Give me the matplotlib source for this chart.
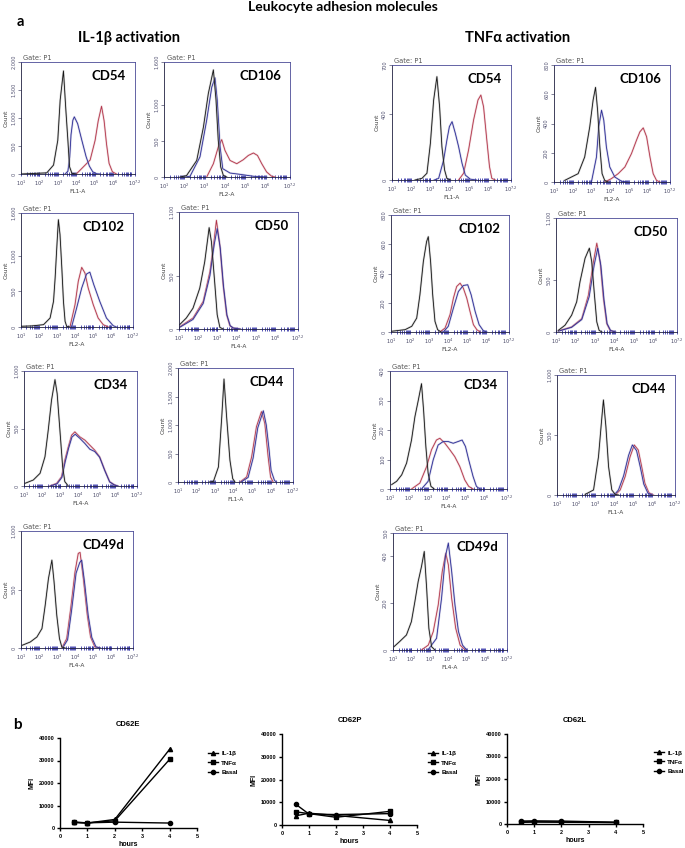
import matplotlib
matplotlib.use("Agg")
import matplotlib.pyplot as plt
import numpy as np
from matplotlib.ticker import NullFormatter

W, H = 685, 848

# ---- flow histograms: (log10 fluorescence, count) ----
IL_CD54_BLACK = [(1.0, 0), (1.7, 10), (2.4, 20), (2.77, 160), (3.0, 600), (3.13, 1320), (3.31, 1840),
                 (3.44, 1140), (3.55, 600), (3.64, 130), (3.77, 12), (4.0, 0)]
IL_CD54_BLUE = [(3.4, 0), (3.55, 50), (3.65, 300), (3.72, 700), (3.82, 960), (3.9, 1020), (4.08, 900),
                (4.31, 600), (4.54, 310), (4.72, 140), (4.9, 40), (5.11, 5), (5.3, 0)]
IL_CD54_RED = [(4.0, 0), (4.13, 40), (4.4, 130), (4.76, 250), (5.03, 600), (5.2, 950), (5.38, 1210),
               (5.52, 950), (5.65, 540), (5.79, 190), (5.97, 40), (6.19, 0)]

IL_CD106_BLACK = [(1.8, 0), (2.11, 20), (2.61, 230), (2.94, 695), (3.18, 1160), (3.43, 1490), (3.56, 1070),
                  (3.67, 510), (3.79, 140), (3.92, 23), (4.08, 0)]
IL_CD106_BLUE = [(2.0, 0), (2.28, 10), (2.77, 280), (3.1, 790), (3.35, 1250), (3.51, 1380), (3.62, 1070),
                 (3.76, 420), (3.89, 116), (4.25, 55), (4.74, 37), (5.4, 10), (6.05, 0)]
IL_CD106_RED = [(3.1, 0), (3.43, 185), (3.67, 417), (3.84, 520), (4.0, 370), (4.25, 230), (4.58, 185),
                (4.9, 240), (5.15, 300), (5.4, 334), (5.6, 300), (5.81, 185), (6.05, 70), (6.3, 10), (6.46, 0)]

IL_CD102_BLACK = [(1.0, 10), (1.6, 15), (2.25, 33), (2.61, 126), (2.8, 360), (2.89, 690), (2.98, 1110),
                  (3.07, 1506), (3.16, 1296), (3.26, 828), (3.35, 360), (3.44, 80), (3.53, 10), (3.7, 0)]
IL_CD102_BLUE = [(3.8, 0), (4.08, 267), (4.36, 547), (4.63, 744), (4.81, 770), (5.03, 594), (5.36, 360),
                 (5.73, 126), (6.1, 19), (6.28, 0)]
IL_CD102_RED = [(3.71, 0), (3.99, 313), (4.17, 640), (4.36, 837), (4.54, 758), (4.72, 547), (5.0, 313),
                (5.27, 126), (5.55, 33), (5.83, 0)]

IL_CD50_BLACK = [(1.03, 40), (1.38, 103), (1.73, 196), (2.08, 383), (2.34, 632), (2.52, 882), (2.57, 953),
                 (2.69, 820), (2.87, 414), (2.99, 134), (3.13, 15), (3.3, 0)]
IL_CD50_BLUE = [(1.03, 15), (1.73, 90), (2.26, 240), (2.61, 500), (2.84, 800), (2.99, 944), (3.15, 760),
                (3.32, 400), (3.5, 130), (3.67, 30), (3.85, 8), (4.2, 0)]
IL_CD50_RED = [(1.03, 20), (1.73, 103), (2.26, 259), (2.61, 539), (2.82, 820), (2.95, 1022), (3.13, 788),
               (3.3, 414), (3.48, 134), (3.65, 31), (3.82, 9), (4.17, 0)]

IL_CD34_BLACK = [(1.05, 23), (1.51, 52), (1.88, 110), (2.15, 254), (2.33, 486), (2.51, 746), (2.7, 925),
                 (2.82, 803), (2.97, 486), (3.12, 168), (3.24, 38), (3.43, 0)]
IL_CD34_BLUE = [(2.45, 0), (2.82, 20), (3.08, 75), (3.26, 210), (3.45, 330), (3.63, 425), (3.81, 450),
                (4.06, 415), (4.34, 370), (4.61, 320), (4.88, 300), (5.15, 250), (5.43, 135), (5.7, 35),
                (5.97, 8), (6.15, 0)]
IL_CD34_RED = [(2.42, 0), (2.79, 23), (3.06, 81), (3.24, 225), (3.43, 341), (3.61, 442), (3.79, 471),
               (4.06, 428), (4.34, 399), (4.61, 355), (4.88, 312), (5.15, 254), (5.43, 139), (5.7, 38),
               (5.97, 9), (6.15, 0)]

IL_CD44_BLACK = [(2.7, 0), (2.91, 10), (3.18, 265), (3.36, 1147), (3.48, 1806), (3.62, 1147), (3.8, 382),
                 (3.95, 59), (4.07, 0)]
IL_CD44_BLUE = [(4.4, 0), (4.78, 80), (5.05, 420), (5.3, 950), (5.6, 1250), (5.76, 1000), (5.9, 600),
                (6.02, 200), (6.2, 29), (6.3, 0)]
IL_CD44_RED = [(4.34, 0), (4.7, 88), (4.97, 441), (5.23, 970), (5.5, 1235), (5.68, 1029), (5.86, 441),
               (5.99, 88), (6.13, 0)]

IL_CD49D_BLACK = [(1.06, 23), (1.51, 51), (1.88, 94), (2.16, 166), (2.34, 366), (2.52, 594), (2.71, 751),
                  (2.83, 566), (2.98, 280), (3.13, 80), (3.26, 9), (3.44, 0)]
IL_CD49D_BLUE = [(3.3, 0), (3.58, 70), (3.8, 320), (4.05, 640), (4.25, 730), (4.36, 751), (4.52, 560),
                 (4.72, 280), (4.92, 90), (5.15, 10), (5.4, 0)]
IL_CD49D_RED = [(3.26, 0), (3.53, 80), (3.75, 337), (3.99, 651), (4.17, 809), (4.27, 817), (4.45, 594),
                (4.67, 280), (4.85, 94), (5.09, 9), (5.36, 0)]

TNF_CD54_BLACK = [(2.2, 0), (2.56, 10), (2.82, 41), (3.0, 223), (3.17, 487), (3.34, 629), (3.48, 446),
                  (3.6, 203), (3.74, 61), (3.86, 10), (4.04, 0)]
TNF_CD54_BLUE = [(3.2, 0), (3.43, 10), (3.69, 122), (3.86, 243), (3.99, 325), (4.13, 355), (4.3, 284),
                 (4.47, 203), (4.65, 101), (4.82, 30), (5.08, 5), (5.4, 0)]
TNF_CD54_RED = [(4.47, 0), (4.73, 41), (4.99, 183), (5.25, 365), (5.48, 487), (5.63, 517), (5.77, 446),
                (5.94, 243), (6.08, 81), (6.2, 10), (6.38, 0)]

TNF_CD106_BLACK = [(1.57, 11), (2.29, 57), (2.64, 171), (2.91, 377), (3.09, 560), (3.22, 647), (3.33, 491),
                   (3.45, 240), (3.57, 57), (3.71, 11), (3.89, 0)]
TNF_CD106_BLUE = [(3.0, 0), (3.27, 171), (3.39, 377), (3.54, 491), (3.66, 423), (3.8, 240), (3.98, 103),
                  (4.25, 34), (4.61, 5), (4.97, 0)]
TNF_CD106_RED = [(3.71, 0), (4.07, 23), (4.43, 57), (4.79, 103), (5.14, 194), (5.41, 286), (5.59, 343),
                 (5.77, 370), (5.95, 309), (6.13, 171), (6.3, 57), (6.48, 11), (6.66, 0)]

TNF_CD102_BLACK = [(1.04, 5), (1.74, 16), (2.09, 39), (2.35, 95), (2.52, 255), (2.7, 482), (2.87, 618),
                   (2.96, 652), (3.08, 482), (3.19, 255), (3.31, 73), (3.45, 16), (3.63, 0)]
TNF_CD102_BLUE = [(3.75, 0), (4.01, 39), (4.28, 164), (4.54, 277), (4.8, 318), (5.03, 323), (5.21, 255),
                  (5.42, 141), (5.63, 50), (5.85, 9), (6.03, 0)]
TNF_CD102_RED = [(3.57, 0), (3.84, 27), (4.1, 118), (4.28, 232), (4.45, 311), (4.63, 334), (4.8, 300),
                 (4.98, 232), (5.15, 141), (5.33, 50), (5.51, 16), (5.68, 0)]

TNF_CD50_BLACK = [(1.12, 16), (1.46, 65), (1.8, 162), (2.06, 291), (2.23, 485), (2.49, 712), (2.71, 809),
                  (2.83, 679), (2.97, 356), (3.09, 97), (3.21, 16), (3.35, 0)]
TNF_CD50_BLUE = [(1.12, 8), (1.8, 45), (2.32, 120), (2.7, 340), (2.96, 650), (3.14, 809), (3.3, 640),
                 (3.46, 310), (3.62, 80), (3.8, 14), (4.05, 0)]
TNF_CD50_RED = [(1.12, 10), (1.8, 49), (2.32, 129), (2.66, 356), (2.92, 679), (3.09, 857), (3.26, 679),
                (3.43, 324), (3.6, 81), (3.77, 16), (4.03, 0)]

TNF_CD34_BLACK = [(1.09, 15), (1.35, 26), (1.62, 48), (1.88, 88), (2.14, 166), (2.32, 245), (2.5, 301),
                  (2.67, 357), (2.78, 267), (2.9, 144), (3.02, 54), (3.17, 9), (3.34, 0)]
TNF_CD34_BLUE = [(2.67, 0), (3.02, 26), (3.29, 99), (3.55, 149), (3.82, 161), (4.08, 161), (4.35, 155),
                 (4.61, 161), (4.82, 166), (5.0, 144), (5.17, 99), (5.4, 43), (5.58, 9), (5.76, 0)]
TNF_CD34_RED = [(2.14, 0), (2.58, 20), (2.94, 76), (3.2, 133), (3.46, 166), (3.64, 172), (3.91, 155),
                (4.17, 133), (4.43, 110), (4.7, 76), (4.96, 31), (5.17, 9), (5.4, 0)]

TNF_CD44_BLACK = [(2.48, 5), (2.92, 42), (3.18, 319), (3.36, 653), (3.44, 792), (3.57, 569), (3.71, 236),
                  (3.88, 42), (4.06, 5), (4.23, 0)]
TNF_CD44_BLUE = [(4.0, 0), (4.23, 42), (4.5, 160), (4.76, 330), (4.96, 417), (5.18, 370), (5.38, 230),
                 (5.56, 90), (5.78, 15), (6.0, 0)]
TNF_CD44_RED = [(4.06, 0), (4.32, 42), (4.58, 153), (4.84, 319), (5.06, 417), (5.27, 375), (5.45, 236),
                (5.62, 97), (5.83, 19), (6.06, 0)]

TNF_CD49D_BLACK = [(1.05, 14), (1.36, 36), (1.73, 64), (2.0, 121), (2.19, 207), (2.37, 293), (2.55, 357),
                   (2.7, 421), (2.83, 264), (2.95, 93), (3.1, 14), (3.28, 0)]
TNF_CD49D_BLUE = [(2.9, 0), (3.37, 50), (3.64, 221), (3.85, 400), (4.01, 457), (4.19, 336), (4.37, 193),
                  (4.56, 79), (4.78, 21), (5.01, 0)]
TNF_CD49D_RED = [(2.55, 0), (2.92, 21), (3.19, 79), (3.46, 193), (3.68, 336), (3.87, 414), (4.01, 364),
                 (4.19, 221), (4.41, 93), (4.65, 21), (4.93, 0)]

# (marker, channel, y max, y ticks, black, blue, red)
IL_PANELS = [
    ("CD54", "FL1-A", 2000, [0, 500, 1000, 1500, 2000], IL_CD54_BLACK, IL_CD54_BLUE, IL_CD54_RED),
    ("CD106", "FL2-A", 1600, [0, 500, 1000, 1600], IL_CD106_BLACK, IL_CD106_BLUE, IL_CD106_RED),
    ("CD102", "FL2-A", 1600, [0, 500, 1000, 1600], IL_CD102_BLACK, IL_CD102_BLUE, IL_CD102_RED),
    ("CD50", "FL4-A", 1100, [0, 500, 1100], IL_CD50_BLACK, IL_CD50_BLUE, IL_CD50_RED),
    ("CD34", "FL4-A", 1000, [0, 500, 1000], IL_CD34_BLACK, IL_CD34_BLUE, IL_CD34_RED),
    ("CD44", "FL1-A", 2000, [0, 500, 1000, 1500, 2000], IL_CD44_BLACK, IL_CD44_BLUE, IL_CD44_RED),
    ("CD49d", "FL4-A", 1000, [0, 500, 1000], IL_CD49D_BLACK, IL_CD49D_BLUE, IL_CD49D_RED),
]
TNF_PANELS = [
    ("CD54", "FL1-A", 700, [0, 400, 700], TNF_CD54_BLACK, TNF_CD54_BLUE, TNF_CD54_RED),
    ("CD106", "FL2-A", 800, [0, 200, 400, 600, 800], TNF_CD106_BLACK, TNF_CD106_BLUE, TNF_CD106_RED),
    ("CD102", "FL2-A", 800, [0, 200, 400, 600, 800], TNF_CD102_BLACK, TNF_CD102_BLUE, TNF_CD102_RED),
    ("CD50", "FL4-A", 1100, [0, 500, 1100], TNF_CD50_BLACK, TNF_CD50_BLUE, TNF_CD50_RED),
    ("CD34", "FL4-A", 400, [0, 100, 200, 300, 400], TNF_CD34_BLACK, TNF_CD34_BLUE, TNF_CD34_RED),
    ("CD44", "FL1-A", 1000, [0, 500, 1000], TNF_CD44_BLACK, TNF_CD44_BLUE, TNF_CD44_RED),
    ("CD49d", "FL4-A", 500, [0, 200, 400, 500], TNF_CD49D_BLACK, TNF_CD49D_BLUE, TNF_CD49D_RED),
]

# ---- panel b: MFI time course ----
HOURS = [0.5, 1, 2, 4]
SERIES_LABELS = ["IL-1β", "TNFα", "Basal"]
CD62E_IL1B = [2500, 2200, 3800, 35000]
CD62E_TNFA = [2600, 2300, 3200, 30500]
CD62E_BASAL = [2500, 2300, 2600, 2200]
CD62P_IL1B = [4000, 5200, 4200, 2000]
CD62P_TNFA = [5800, 5000, 3400, 6000]
CD62P_BASAL = [9200, 4800, 4600, 5000]
CD62L_IL1B = [700, 900, 800, 600]
CD62L_TNFA = [900, 1000, 900, 700]
CD62L_BASAL = [1300, 1400, 1300, 800]

# frame boxes in pixels: left, top, right, bottom
IL_FRAMES = [(21, 62, 135, 174), (164, 62, 290, 177), (21, 213, 133, 327), (179, 212, 298, 329),
             (24, 371, 137, 486), (178, 368, 293, 482), (21, 531, 133, 648)]
TNF_FRAMES = [(392, 65, 511, 180), (554, 65, 670, 182), (391, 215, 509, 332), (556, 218, 677, 332),
              (390, 371, 507, 489), (557, 375, 675, 495), (393, 533, 507, 650)]
MFI_FRAMES = [(60, 738, 197, 828), (282, 734, 417, 825), (507, 734, 643, 824)]

LINE_COLORS = ["#151515", "#2b2b95", "#b2344a"]
SHADE_COLORS = ["#9a9a9a", "#9a9ac8", "#d8a0a8"]
FRAME_COLOR = "#4a4a96"
TICK_COLOR = "#3535a8"
LABEL_FONT = "Lato"

fig = plt.figure(figsize=(W / 100, H / 100), dpi=100)


def px_axes(box):
    l, t, r, b = box
    return fig.add_axes([l / W, 1 - b / H, (r - l) / W, (b - t) / H])


def histogram(box, marker, channel, ymax, yticks, black, blue, red):
    ax = px_axes(box)
    ax.set_xscale("log")
    ax.set_xlim(10 ** 1, 10 ** 7.2)
    ax.set_ylim(0, ymax)
    for pts, color, shade in zip([red, blue, black], LINE_COLORS[::-1], SHADE_COLORS[::-1]):
        x = 10 ** np.array([p[0] for p in pts])
        y = np.array([p[1] for p in pts])
        ax.plot(x, y, color=shade, lw=1.5, alpha=0.45, solid_joinstyle="round")
        ax.plot(x, y, color=color, lw=0.6)

    major = [10.0 ** k for k in range(1, 7)] + [10 ** 7.2]
    ax.set_xticks(major)
    ax.set_xticklabels([f"$10^{{{k}}}$" for k in range(1, 7)] + ["$10^{7.2}$"],
                       fontsize=3.6, color="#404060")
    minor = [m * 10.0 ** k for k in range(1, 7) for m in range(2, 10)] + [1e7]
    ax.set_xticks(minor, minor=True)
    ax.xaxis.set_minor_formatter(NullFormatter())
    ax.tick_params(axis="x", which="both", direction="inout", colors=TICK_COLOR, width=0.6, pad=1.5)
    ax.tick_params(axis="x", which="major", length=3.5, labelcolor="#404060")
    ax.tick_params(axis="x", which="minor", length=3.0)

    ax.set_yticks(yticks)
    ax.set_yticklabels([f"{v:,}" for v in yticks], rotation=90, va="center", fontsize=3.6, color="#505070")
    ax.tick_params(axis="y", length=2, width=0.5, colors="#505070", pad=1.5)

    for side in ax.spines.values():
        side.set_color(FRAME_COLOR)
        side.set_linewidth(0.6)
    ax.spines["left"].set_color("#202040")
    ax.spines["bottom"].set_color("#202040")

    ax.set_xlabel(channel, fontsize=4.2, color="#404040", labelpad=1)
    ax.set_ylabel("Count", fontsize=4.2, color="#404040", labelpad=2)
    ax.text(0.02, 1.01, "Gate: P1", transform=ax.transAxes, fontsize=4.8, color="#555555",
            ha="left", va="bottom")
    w_px, h_px = box[2] - box[0], box[3] - box[1]
    ax.text(1 - 9 / w_px, 1 - 14 / h_px, marker, transform=ax.transAxes, fontsize=9.5,
            family=LABEL_FONT, fontweight="bold", ha="right", va="center")


for box, panel in zip(IL_FRAMES, IL_PANELS):
    histogram(box, *panel)
for box, panel in zip(TNF_FRAMES, TNF_PANELS):
    histogram(box, *panel)

MARKERS = ["^", "s", "o"]


def mfi_plot(box, title, series, legend_xy):
    ax = px_axes(box)
    handles = []
    for values, mk in zip(series, MARKERS):
        line, = ax.plot(HOURS, values, color="black", lw=1.0, marker=mk, ms=3)
        handles.append(line)
    ax.set_xlim(0, 5)
    ax.set_ylim(0, 40000)
    ax.set_xticks(range(6))
    ax.set_yticks([0, 10000, 20000, 30000, 40000])
    for side in ["top", "right"]:
        ax.spines[side].set_visible(False)
    for side in ["left", "bottom"]:
        ax.spines[side].set_linewidth(1.0)
    ax.tick_params(length=2.5, width=1.0, labelsize=4, pad=1.5)
    for lab in ax.get_xticklabels() + ax.get_yticklabels():
        lab.set_fontweight("bold")
        lab.set_family("Liberation Sans")
    ax.set_title(title, fontsize=5.5, fontweight="bold", family="Liberation Sans", pad=9)
    ax.set_xlabel("hours", fontsize=5, fontweight="bold", family="Liberation Sans", labelpad=2)
    ax.set_ylabel("MFI", fontsize=5, fontweight="bold", family="Liberation Sans", labelpad=2)
    ax.legend(handles, SERIES_LABELS, loc="upper left", bbox_to_anchor=(legend_xy[0] / W, 1 - legend_xy[1] / H),
              bbox_transform=fig.transFigure, frameon=False, handlelength=1.6, handletextpad=0.5,
              labelspacing=0.6, borderpad=0, prop={"size": 4.5, "weight": "bold", "family": "Liberation Sans"})


mfi_plot(MFI_FRAMES[0], "CD62E", [CD62E_IL1B, CD62E_TNFA, CD62E_BASAL], (205, 748))
mfi_plot(MFI_FRAMES[1], "CD62P", [CD62P_IL1B, CD62P_TNFA, CD62P_BASAL], (425, 748))
mfi_plot(MFI_FRAMES[2], "CD62L", [CD62L_IL1B, CD62L_TNFA, CD62L_BASAL], (651, 747))

fig.text(343 / W, 1 - 7 / H, "Leukocyte adhesion molecules", family=LABEL_FONT, fontweight="bold",
         fontsize=10, ha="center", va="center")
fig.text(20 / W, 1 - 22 / H, "a", family=LABEL_FONT, fontweight="bold", fontsize=10.5, ha="center", va="center")
fig.text(129 / W, 1 - 38 / H, "IL-1β activation", family=LABEL_FONT, fontweight="bold", fontsize=10.5,
         ha="center", va="center")
fig.text(518 / W, 1 - 38 / H, "TNFα activation", family=LABEL_FONT, fontweight="bold", fontsize=10.5,
         ha="center", va="center")
fig.text(17 / W, 1 - 725 / H, "b", family=LABEL_FONT, fontweight="bold", fontsize=11, ha="center", va="center")

fig.savefig("out.png", dpi=100)
